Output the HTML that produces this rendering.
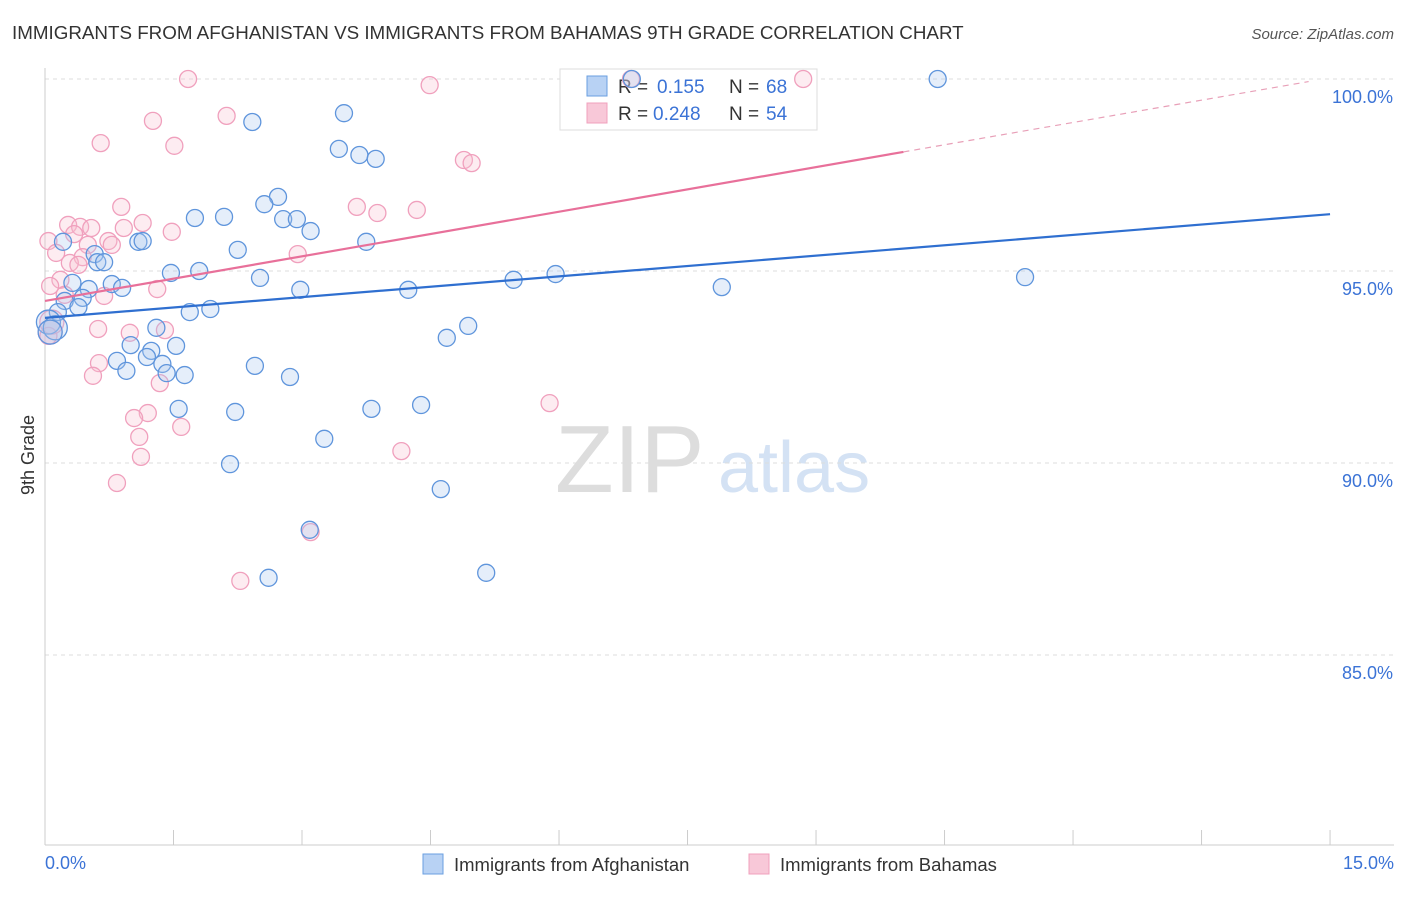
<!DOCTYPE html>
<html><head><meta charset="utf-8"><style>
body{margin:0;background:#fff;font-family:"Liberation Sans",sans-serif;}
svg text{font-family:"Liberation Sans",sans-serif;}
</style></head><body>
<svg id="c" width="1406" height="892" xmlns="http://www.w3.org/2000/svg">
<text x="12" y="39" font-size="18.8" fill="#333">IMMIGRANTS FROM AFGHANISTAN VS IMMIGRANTS FROM BAHAMAS 9TH GRADE CORRELATION CHART</text>
<text x="1394" y="39" font-size="15" fill="#555" text-anchor="end" font-style="italic">Source: ZipAtlas.com</text>
<text x="555" y="492" font-size="96" fill="#ddd" font-family="Liberation Serif">ZIP</text>
<text x="718" y="492" font-size="72" fill="#d4e2f4">atlas</text>
<g id="grid"></g>
<g>
<rect x="560" y="69" width="257" height="61" fill="#fff" stroke="#ddd"/>
<rect x="587" y="76" width="20" height="20" fill="#b8d2f4" stroke="#6a9fe0"/>
<rect x="587" y="103" width="20" height="20" fill="#f8c8d8" stroke="#f0a0bd"/>
<text x="618" y="93" font-size="19" fill="#333">R =</text>
<text x="657" y="93" font-size="19" fill="#3b73d6">0.155</text>
<text x="729" y="93" font-size="19" fill="#333">N =</text>
<text x="766" y="93" font-size="19" fill="#3b73d6">68</text>
<text x="618" y="120" font-size="19" fill="#333">R =</text>
<text x="653" y="120" font-size="19" fill="#3b73d6">0.248</text>
<text x="729" y="120" font-size="19" fill="#333">N =</text>
<text x="766" y="120" font-size="19" fill="#3b73d6">54</text>
</g>
<g id="pts"></g><g id="lines"></g>
<text x="34" y="455" font-size="18" fill="#333" text-anchor="middle" transform="rotate(-90 34 455)">9th Grade</text>
<text x="45" y="869" font-size="18" fill="#3b73d6">0.0%</text>
<text x="1394" y="869" font-size="18" fill="#3b73d6" text-anchor="end">15.0%</text>
<g>
<rect x="423" y="854" width="20" height="20" fill="#b8d2f4" stroke="#6a9fe0"/>
<text x="454" y="871" font-size="18.5" fill="#333">Immigrants from Afghanistan</text>
<rect x="749" y="854" width="20" height="20" fill="#f8c8d8" stroke="#f0a0bd"/>
<text x="780" y="871" font-size="18.5" fill="#333">Immigrants from Bahamas</text>
</g>
</svg>
<script>
const yTicks=[100,95,90,85];
const yTickLabels=["100.0%","95.0%","90.0%","85.0%"];
const xTicks=[0,1.5,3,4.5,6,7.5,9,10.5,12,13.5,15];
const bluePx=[[632,79],[938,79],[344,113],[252,122],[339,149],[359,155],[376,159],[278,197],[264,204],[195,218],[224,217],[283,219],[297,219],[311,231],[366,242],[63,242],[138,242],[143,241],[238,250],[95,254],[97,262],[104,262],[171,273],[199,271],[260,278],[514,280],[556,274],[1025,277],[72,283],[89,289],[112,284],[122,288],[300,290],[408,290],[722,287],[83,298],[65,301],[78,307],[58,312],[48,322],[55,328],[50,332],[210,309],[190,312],[156,328],[468,326],[447,338],[131,345],[176,346],[151,351],[147,357],[117,361],[162,364],[255,366],[126,371],[167,373],[185,375],[290,377],[179,409],[235,412],[371,409],[421,405],[324,439],[230,464],[441,489],[310,530],[486,573],[269,578]];
const pinkPx=[[188,79],[631,79],[803,79],[430,85],[227,116],[153,121],[101,143],[174,146],[464,160],[472,163],[121,207],[357,207],[377,213],[417,210],[143,223],[68,225],[80,227],[91,228],[124,228],[172,232],[74,234],[48,241],[108,241],[112,245],[88,245],[298,254],[56,253],[83,257],[70,263],[78,265],[60,280],[50,286],[157,289],[104,296],[65,295],[98,329],[130,333],[165,330],[99,363],[93,376],[160,383],[550,403],[148,413],[134,418],[181,427],[139,437],[401,451],[141,457],[117,483],[311,532],[240,581],[50,332],[48,336],[52,322]];
// data values (x in %, y in %)
const blueX=bluePx.map(p=>+((p[0]-45)/85.67).toFixed(2));
const blueY=bluePx.map(p=>+(100-(p[1]-79)/38.4).toFixed(2));
const pinkX=pinkPx.map(p=>+((p[0]-45)/85.67).toFixed(2));
const pinkY=pinkPx.map(p=>+(100-(p[1]-79)/38.4).toFixed(2));
const blueLine=[93.78,96.48];
const pinkLine=[94.22,100.03];
const pinkSolidEnd=10.02;
const X=v=>45+v*85.67, Y=v=>79+(100-v)*38.4;
const NS="http://www.w3.org/2000/svg";
function mk(t,a,p){const e=document.createElementNS(NS,t);for(const k in a)e.setAttribute(k,a[k]);p.appendChild(e);return e;}
const g=document.getElementById('grid');
yTicks.forEach((v,i)=>{
 const l=mk('line',{x1:45,x2:1394,y1:Y(v),y2:Y(v),stroke:'#ddd','stroke-dasharray':'4,4'},g);
 
 
 const t=mk('text',{x:1393,y:Y(v)+24,'font-size':18,fill:'#3b73d6','text-anchor':'end'},g);
 t.textContent=yTickLabels[i];
 
 
});
const ax=mk('line',{x1:45,x2:45,y1:68,y2:845,stroke:'#ccc'},g);


const bx=mk('line',{x1:45,x2:1394,y1:845,y2:845,stroke:'#ccc'},g);


xTicks.forEach(v=>{const t=mk('line',{x1:X(v),x2:X(v),y1:830,y2:845,stroke:'#ccc'},g);
 
 });
const pg=document.getElementById('pts');
function pts(xs,ys,fill,stroke,name){xs.forEach((x,i)=>{
 const c=mk('circle',{cx:X(x),cy:Y(ys[i]),r:(x<0.15&&ys[i]<93.8&&ys[i]>93.4)?12:8.5,fill:fill,'fill-opacity':0.3,stroke:stroke,'stroke-width':1.3},pg);
 
 });}
pts(pinkX,pinkY,'#f8c0d2','#f0a0bd','bahamas-point');
pts(blueX,blueY,'#a9c8f0','#5f95dc','afghanistan-point');
const lg=document.getElementById('lines');
const b=mk('line',{x1:X(0),y1:Y(blueLine[0]),x2:X(15),y2:Y(blueLine[1]),stroke:'#2f6fd0','stroke-width':2.2},lg);


const py=v=>pinkLine[0]+(pinkLine[1]-pinkLine[0])*v/15;
const p1=mk('line',{x1:X(0),y1:Y(py(0)),x2:X(pinkSolidEnd),y2:Y(py(pinkSolidEnd)),stroke:'#e8709a','stroke-width':2.2},lg);


const p2=mk('line',{x1:X(pinkSolidEnd),y1:Y(py(pinkSolidEnd)),x2:X(14.75),y2:Y(py(14.75)),stroke:'#e8a0b8','stroke-width':1.2,'stroke-dasharray':'6,5'},lg);


</script>
</body></html>
